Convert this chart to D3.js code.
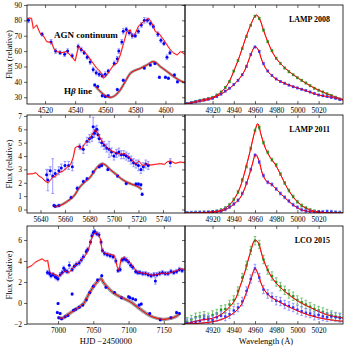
<!DOCTYPE html>
<html>
<head>
<meta charset="utf-8">
<script src="https://cdn.jsdelivr.net/npm/d3@7"></script>
<style>
  body { margin: 0; background: #fff; }
  svg { display: block; }
  .tick text { font-family: "Liberation Serif", serif; font-size: 7.5px; fill: #000; }
  .tick line { stroke: #000; stroke-width: 0.6; }
</style>
</head>
<body>
<svg id="chart" width="350" height="350"></svg>
<script>
// ---- light curves (HJD - 2450000, flux) ----
const cont08Line = [[4508,80.7],[4509.5,81.5],[4511,81.3],[4512.2,74.8],[4514.4,77],[4516.7,71.6],[4518.9,69.9],[4521.1,66.2],[4524.4,65.5],[4526,61.2],[4527.8,59.7],[4531.1,59],[4534.4,59.7],[4537.8,56.4],[4540,53.6],[4542.2,62.9],[4544.4,60.8],[4546.7,59],[4548.9,56.4],[4551.1,53.2],[4554.4,48.8],[4556.7,46.7],[4558.9,42.3],[4561.1,44.5],[4563.3,47.8],[4565.6,51],[4567.8,52.1],[4570,57.5],[4572.2,65.1],[4574.4,72.7],[4576.7,73.8],[4577.8,69.4],[4580,71.6],[4582.2,76.4],[4585.6,79.2],[4588.9,81.3],[4591.1,78.1],[4593.3,72.7],[4595.6,71.6],[4598.9,67.3],[4601.1,64],[4603.3,60.8],[4605.6,58.6],[4607.8,57.5],[4610,59.7],[4613,58]];
const cont08Pts = [[4509,80,1.5],[4518,71,1.2],[4524,66,1.5],[4527,60,1.5],[4530,59,1.2],[4533,58,1.5],[4535,60,1.5],[4538,57,1.2],[4542,63,1.5],[4544,61,1.5],[4546,59,1.2],[4548,56,1.2],[4550,53,1.5],[4552,48,1.5],[4554,46,1.5],[4556,45,1.5],[4558,44,1.2],[4560,45,1.5],[4562,47,1.2],[4566,52,1.5],[4568,55,1.5],[4569,60,1.5],[4571,66,1.5],[4572,73,1.8],[4574,74,1.5],[4576,72,1.5],[4578,70,1.5],[4580,70,1.2],[4582,73,1.5],[4584,77,1.5],[4586,80,1.8],[4588,80,1.5],[4590,78,1.5],[4592,76,1.2],[4595,71,1.5],[4597,67,1.5],[4599,65,1.2],[4601,56,1.5],[4603,59,1.2]];
const hb08Line = [[4553.5,37],[4556.7,33.7],[4561.1,30.4],[4564,30],[4567,31.5],[4570,34.8],[4573.3,40.2],[4576.7,45.6],[4579,47.1],[4583.3,48.8],[4587.8,51],[4591,53],[4593,53],[4596.7,49.9],[4601.1,46.7],[4605.6,43.4],[4610,40.6],[4613,39.5]];
const hb08Pts = [[4553,38,0.8],[4555,37,0.8],[4558,31,0.8],[4560,30.5,0.8],[4562,31,0.8],[4568,35,0.8],[4572,41,0.8],[4586,49,0.8],[4590,51,0.8],[4593,52,0.8],[4596,43,0.8],[4600,43,0.8],[4602,42.4,0.8],[4606,44.5,0.8],[4608,40,0.8]];

const cont11Line = [[5629,2.65],[5633.8,2.68],[5636.3,2.75],[5638.8,2.5],[5641.2,2.38],[5643.7,2.13],[5646.2,2.0],[5648.6,2.25],[5649.9,2.43],[5652.3,2.5],[5654.8,2.75],[5658.5,2.88],[5662.2,3.18],[5664.7,3.38],[5666.7,3.88],[5668.4,4.63],[5670.9,4.75],[5673.3,4.5],[5675.8,4.88],[5678.3,5.13],[5680.7,5.38],[5683.2,5.75],[5684.9,6.0],[5686.9,5.63],[5689.4,5.25],[5691.9,4.88],[5694.3,4.63],[5698,4.38],[5701.7,4.25],[5705.4,4.13],[5709.1,4.18],[5712.8,3.88],[5715.3,3.63],[5717.8,3.38],[5720.2,3.63],[5724,3.25],[5726.4,3.43],[5730.1,3.33],[5733.8,3.38],[5737.5,3.43],[5741.2,3.38],[5743.7,3.58],[5746.2,3.63],[5750,3.45],[5754,3.55],[5758,3.5]];
const cont11Pts = [[5645,2.6,0.4],[5646,2.2,0.8],[5648,2.9,0.3],[5650,2.5,1.3],[5652,2.7,0.3],[5655,2.9,0.3],[5657,3.1,0.3],[5660,3.3,0.3],[5663,3.3,0.3],[5666,3.2,0.3],[5672,4.7,0.2],[5675,4.5,0.3],[5678,5.1,0.3],[5680,5.3,0.3],[5682,5.4,0.3],[5683,6.2,0.7],[5684,5.7,0.3],[5685,5.9,0.3],[5686,6.0,0.3],[5687,5.6,0.3],[5688,5.3,0.3],[5690,5.0,0.3],[5692,4.8,0.3],[5694,4.6,0.3],[5696,4.5,0.6],[5698,4.3,0.3],[5700,4.0,0.3],[5702,4.2,0.3],[5704,4.3,0.3],[5706,4.1,0.3],[5708,4.1,0.3],[5710,4.0,0.3],[5712,3.9,0.3],[5714,3.7,0.3],[5716,3.5,0.3],[5718,3.4,0.3],[5720,3.3,0.4],[5722,3.0,0.3],[5724,3.2,0.3],[5726,3.4,0.3],[5728,3.3,0.3],[5746,3.5,0.3]];
const hb11Line = [[5651.1,0.2],[5656,0.3],[5662.2,0.63],[5667.2,1.0],[5672.1,1.68],[5677,2.13],[5680.7,2.43],[5684.4,2.93],[5688.1,3.33],[5690.6,3.43],[5693.1,3.33],[5696.8,3.0],[5701.7,2.63],[5706.7,2.25],[5711.6,2.0],[5716.5,1.83],[5720.2,1.68],[5722.7,1.5]];
const hb11Pts = [[5651,0.3,0.1],[5652,0.25,0.1],[5655,0.3,0.1],[5665,0.9,0.1],[5670,1.6,0.1],[5675,2.1,0.1],[5678,2.3,0.1],[5683,2.8,0.1],[5688,3.2,0.1],[5690,3.3,0.1],[5695,3.0,0.1],[5703,2.5,0.1],[5710,1.95,0.1],[5718,1.9,0.1],[5720,1.9,0.1],[5722,1.85,0.1],[5723,1.15,0.1]];

const cont15Line = [[6956,3.35],[6958.4,3.42],[6963.1,3.57],[6967.8,3.89],[6972.6,4.05],[6977.3,4.2],[6982,3.98],[6985.3,4.05],[6988.2,2.94],[6991.5,2.79],[6996.2,2.72],[7000.9,2.54],[7005.7,2.79],[7010.4,3.1],[7015.1,2.85],[7019.9,3.26],[7024.6,3.57],[7029.3,3.89],[7034.1,4.2],[7038.8,4.52],[7043.5,5.15],[7046.9,6.0],[7050.6,6.57],[7054.4,6.72],[7057.7,6.41],[7060.1,6.09],[7062.5,4.99],[7065.8,4.74],[7070.5,4.68],[7075.2,4.61],[7080,4.52],[7083.8,3.48],[7086.6,3.1],[7089.4,4.2],[7094.2,4.36],[7098.9,4.05],[7103.6,3.73],[7108.4,3.26],[7113.1,2.94],[7119.3,2.85],[7126.4,2.79],[7133.5,2.63],[7140.6,2.72],[7147.7,2.85],[7154.8,2.79],[7161.9,2.94],[7169,3.1],[7173.7,3.26],[7180,3.2]];
const cont15Pts = [[6985,2.9,0.2],[6988,2.8,0.2],[6990,2.6,0.2],[6993,2.7,0.2],[6996,2.5,0.2],[6998,2.4,0.2],[7000,2.3,0.2],[7003,2.7,0.2],[7006,2.9,0.2],[7008,3.3,0.2],[7010,3.1,0.2],[7013,3.0,0.2],[7016,3.6,0.3],[7020,3.2,0.2],[7023,3.5,0.2],[7026,3.7,0.2],[7030,3.8,0.2],[7033,4.1,0.2],[7036,4.4,0.2],[7040,4.9,0.2],[7042,5.1,0.2],[7046,5.8,0.2],[7048,6.4,0.2],[7050,6.7,0.2],[7052,6.8,0.2],[7055,6.6,0.2],[7058,6.5,0.2],[7061,5.8,0.2],[7063,5.0,0.2],[7066,4.7,0.2],[7070,4.6,0.2],[7074,4.5,0.2],[7078,4.4,0.2],[7082,4.0,0.2],[7085,3.1,0.2],[7088,3.2,0.2],[7091,4.1,0.2],[7094,4.2,0.2],[7097,4.1,0.2],[7100,3.9,0.2],[7103,3.6,0.2],[7106,3.4,0.2],[7110,3.0,0.2],[7113,2.9,0.2],[7116,2.9,0.2],[7120,2.8,0.2],[7124,2.8,0.2],[7128,2.7,0.2],[7132,2.6,0.2],[7136,2.7,0.2],[7138,2.1,0.3],[7140,2.7,0.2],[7144,2.8,0.2],[7148,2.9,0.2],[7152,2.8,0.2],[7156,2.8,0.2],[7160,3.0,0.2],[7164,2.9,0.2],[7168,3.0,0.2],[7172,3.2,0.2],[7176,3.1,0.2]];
const hb15Line = [[7000.9,-1.37],[7005.7,-1.46],[7012.8,-1.15],[7019.9,-0.83],[7027,-0.52],[7036.4,-0.05],[7042.1,0.65],[7048.3,1.37],[7055.3,2.0],[7061,2.31],[7063.9,2.0],[7069.6,1.53],[7076.7,1.06],[7083.8,0.74],[7093.2,0.43],[7102.7,0.11],[7112.2,-0.36],[7121.6,-0.83],[7131.1,-1.24],[7140.6,-1.46],[7150,-1.56],[7159.5,-1.46],[7166.6,-1.31],[7171.3,-1.06]];
const hb15Pts = [[6999,-0.9,0.1],[7000,-0.05,0.1],[7001,-1.4,0.1],[7003,-1.0,0.1],[7005,-1.5,0.1],[7010,-1.3,0.1],[7014,-1.2,0.1],[7020,0.85,0.1],[7022,-0.7,0.1],[7025,-0.6,0.1],[7030,-0.4,0.1],[7035,-0.2,0.1],[7040,0.3,0.1],[7045,1.0,0.1],[7050,1.6,0.1],[7056,2.2,0.1],[7062,2.6,0.1],[7068,1.5,0.1],[7080,1.0,0.1],[7090,0.5,0.1],[7100,0.6,0.1],[7102,0.5,0.1],[7106,0.4,0.1],[7110,0.3,0.1],[7115,-0.2,0.1],[7118,-0.1,0.1],[7130,-1.0,0.1],[7145,-1.6,0.1],[7160,-1.4,0.1],[7168,-0.9,0.1],[7172,-1.0,0.1]];

// ---- spectra (wavelength in Angstrom) ----
const wave = [4896,4900,4904,4908,4912,4916,4920,4924,4928,4932,4936,4940,4944,4948,4952,4956,4960,4964,4968,4972,4976,4980,4984,4988,4992,4996,5000,5004,5008,5012,5016,5020,5024,5028,5032,5036,5040];
const mean08 = [0.02,0.1,0.17,0.24,0.3,0.37,0.44,0.6,0.8,1.1,1.5,2.2,2.9,3.7,4.5,5.25,5.85,5.7,4.93,4.15,3.55,3.05,2.7,2.4,2.15,1.95,1.75,1.58,1.4,1.22,1.05,0.92,0.8,0.68,0.57,0.45,0.33];
const rms08 = [0.02,0.08,0.14,0.2,0.26,0.32,0.38,0.5,0.66,0.86,1.05,1.3,1.58,1.95,2.5,3.3,3.8,3.5,2.7,2.2,1.9,1.67,1.5,1.38,1.26,1.15,1.07,0.98,0.9,0.8,0.7,0.6,0.55,0.5,0.44,0.38,0.3];
const mean11 = [0.0,0.01,0.02,0.03,0.04,0.05,0.07,0.12,0.2,0.33,0.55,0.9,1.4,2.2,3.1,4.3,5.5,5.7,4.7,4.05,3.55,3.2,2.6,2.0,1.5,1.1,0.75,0.5,0.33,0.2,0.12,0.07,0.05,0.04,0.03,0.02,0.01];
const rms11 = [0.0,0.01,0.02,0.03,0.04,0.05,0.06,0.09,0.13,0.25,0.4,0.6,0.85,1.3,2.0,2.9,3.85,3.4,2.5,2.05,1.9,1.6,1.3,1.05,0.8,0.55,0.38,0.22,0.14,0.1,0.07,0.06,0.07,0.1,0.08,0.04,0.02];
const mean15 = [0.15,0.3,0.45,0.5,0.55,0.45,0.6,0.7,0.95,1.0,1.3,1.6,2.2,3.1,3.9,4.9,5.55,5.3,4.3,3.6,3.2,2.8,2.5,2.25,2.0,1.85,1.6,1.45,1.3,1.15,1.0,0.9,0.8,0.7,0.6,0.5,0.45];
const rms15 = [0.05,0.1,0.15,0.2,0.35,0.3,0.25,0.45,0.55,0.5,0.65,0.9,1.1,1.5,2.2,3.0,3.7,3.1,2.3,2.0,1.8,1.55,1.5,1.3,1.2,1.1,0.95,0.85,0.75,0.7,0.55,0.6,0.5,0.45,0.5,0.45,0.4];
const specErr = [0.07, 0.1, 0.28];

const modelMean08 = [[4894,0],[4909.6,0.27],[4920,0.44],[4928.5,0.82],[4934.8,1.38],[4941.1,2.38],[4945.9,3.27],[4950.6,4.27],[4955.3,5.16],[4960.1,5.87],[4961.6,5.93],[4964.8,5.6],[4968,4.93],[4972.7,4.04],[4979,3.15],[4988.5,2.38],[5001,1.71],[5013.7,1.15],[5023.2,0.82],[5032.6,0.55],[5043,0.3]];
const modelRms08 = [[4894,0],[4920,0.38],[4934.8,0.98],[4944.3,1.6],[4950.6,2.27],[4955.3,3.16],[4960.1,3.82],[4963.2,3.6],[4966.4,2.93],[4971.1,2.27],[4979,1.71],[4991.6,1.27],[5004.2,0.98],[5020,0.6],[5032.6,0.44],[5043,0.26]];
const modelMean11 = [[4894,0],[4915.9,0.05],[4928.5,0.2],[4934.8,0.47],[4941.1,1.0],[4945.9,1.7],[4950.6,2.8],[4955.3,4.1],[4960.1,5.5],[4962.6,5.95],[4965.8,5.2],[4969.6,4.35],[4974.4,3.7],[4979,3.25],[4983.9,2.6],[4990.2,1.7],[4998,0.9],[5007.4,0.35],[5020,0.07],[5043,0]];
const modelRms11 = [[4894,0],[4928.5,0.13],[4938,0.47],[4945.9,1.0],[4952.2,2.0],[4956.9,3.1],[4960.7,3.9],[4963.9,3.45],[4967.1,2.6],[4971.2,2.1],[4975.9,1.9],[4980.6,1.55],[4987,1.1],[4994.8,0.6],[5004.3,0.2],[5020,0.05],[5043,0]];
const modelMean15 = [[4894,0],[4909.6,0.27],[4920,0.38],[4928.5,0.65],[4934.8,1.05],[4941.1,1.6],[4945.9,2.5],[4950.6,3.5],[4955.3,4.7],[4960.1,5.6],[4963.2,5.4],[4967,4.5],[4972.7,3.5],[4979,2.8],[4988.5,2.15],[5001,1.5],[5013.7,1.05],[5026.3,0.65],[5043,0.4]];
const modelRms15 = [[4894,0],[4920,0.15],[4934.8,0.5],[4945.9,1.15],[4952.2,2.15],[4956.9,3.15],[4960.1,3.7],[4963.2,3.27],[4967,2.5],[4972.7,1.93],[4982.2,1.5],[4994.8,1.05],[5010.5,0.6],[5026.3,0.33],[5043,0.18]];

// ---- axes ----
const leftDomains = [[4508, 4613], [5629, 5758], [6956, 7180]];
const leftYDomains = [[25.6, 90], [-0.26, 7.07], [-2, 7.33]];
const leftXTicks = [[4520, 4540, 4560, 4580, 4600], [5640, 5660, 5680, 5700, 5720, 5740], [7000, 7050, 7100, 7150]];
const leftYTicks = [[30, 40, 50, 60, 70, 80, 90], [0, 1, 2, 3, 4, 5, 6, 7], [-2, 0, 2, 4, 6]];
const waveDomain = [4894, 5043];
const waveTicks = [4920, 4940, 4960, 4980, 5000, 5020];
const labels = ["LAMP 2008", "LAMP 2011", "LCO 2015"];

const svg = d3.select("#chart");
svg.append("rect").attr("width", 350).attr("height", 350).attr("fill", "#fff");

const L = { x0: 27, x1: 185 }, R = { x0: 185, x1: 343 };
const ROWS = [{ y0: 5, y1: 104 }, { y0: 115, y1: 213 }, { y0: 226, y1: 324 }];
const SERIF = "'Liberation Serif', serif";
const BLUE = "#0000ff", RED = "#ff0000", GREEN = "#1f9a1f";

const fmtNum = d => d < 0 ? "\u2212" + Math.abs(d) : String(d);

function clip(id, x0, x1, y0, y1) {
  svg.append("clipPath").attr("id", id).append("rect")
    .attr("x", x0).attr("y", y0).attr("width", x1 - x0).attr("height", y1 - y0);
  return `url(#${id})`;
}

function errPoints(g, pts, x, y, col, errCol, r, sq) {
  const eg = g.append("g").attr("stroke", errCol).attr("stroke-width", 0.8);
  pts.forEach(p => {
    const cx = x(p[0]);
    eg.append("line").attr("x1", cx).attr("x2", cx).attr("y1", y(p[1] - p[2])).attr("y2", y(p[1] + p[2]));
    eg.append("line").attr("x1", cx - 1.3).attr("x2", cx + 1.3).attr("y1", y(p[1] - p[2])).attr("y2", y(p[1] - p[2]));
    eg.append("line").attr("x1", cx - 1.3).attr("x2", cx + 1.3).attr("y1", y(p[1] + p[2])).attr("y2", y(p[1] + p[2]));
  });
  if (sq) {
    g.append("g").selectAll("rect").data(pts).join("rect")
      .attr("x", d => x(d[0]) - r).attr("y", d => y(d[1]) - r)
      .attr("width", 2 * r).attr("height", 2 * r).attr("fill", col);
  } else {
    g.append("g").selectAll("circle").data(pts).join("circle")
      .attr("cx", d => x(d[0])).attr("cy", d => y(d[1])).attr("r", r).attr("fill", col);
  }
}

function frameAxes(x, y, box, row, xTicks, yTicks, showY) {
  const b = svg.append("g").attr("transform", `translate(0,${row.y1})`)
    .call(d3.axisBottom(x).tickValues(xTicks).tickSizeInner(-3).tickSizeOuter(0).tickPadding(3.5).tickFormat(fmtNum));
  b.select(".domain").remove();
  const t = svg.append("g").attr("transform", `translate(0,${row.y0})`)
    .call(d3.axisTop(x).tickValues(xTicks).tickSizeInner(-3).tickSizeOuter(0).tickFormat(""));
  t.select(".domain").remove();
  if (showY) {
    const l = svg.append("g").attr("transform", `translate(${box.x0},0)`)
      .call(d3.axisLeft(y).tickValues(yTicks).tickSizeInner(3).tickSizeOuter(0).tickPadding(2).tickFormat(fmtNum));
    l.select(".domain").remove();
    const r = svg.append("g").attr("transform", `translate(${box.x1},0)`)
      .call(d3.axisRight(y).tickValues(yTicks).tickSizeInner(-3).tickSizeOuter(0).tickFormat(""));
    r.select(".domain").remove();
  }
  svg.append("rect").attr("x", box.x0).attr("y", row.y0)
    .attr("width", box.x1 - box.x0).attr("height", row.y1 - row.y0)
    .attr("fill", "none").attr("stroke", "#000").attr("stroke-width", 0.8);
}

const leftSets = [
  [cont08Line, cont08Pts, hb08Line, hb08Pts],
  [cont11Line, cont11Pts, hb11Line, hb11Pts],
  [cont15Line, cont15Pts, hb15Line, hb15Pts]
];
const spec = [[mean08, rms08, modelMean08, modelRms08], [mean11, rms11, modelMean11, modelRms11], [mean15, rms15, modelMean15, modelRms15]];

ROWS.forEach((row, i) => {
  // light curve panel
  const x = d3.scaleLinear().domain(leftDomains[i]).range([L.x0, L.x1]);
  const y = d3.scaleLinear().domain(leftYDomains[i]).range([row.y1, row.y0]);
  const g = svg.append("g").attr("clip-path", clip("cl" + i, L.x0, L.x1, row.y0, row.y1));
  const [cLine, cPts, hLine, hPts] = leftSets[i];
  const lin = d3.line().x(d => x(d[0])).y(d => y(d[1]));
  const smooth = d3.line().x(d => x(d[0])).y(d => y(d[1])).curve(d3.curveCatmullRom);
  g.append("path").datum(cLine).attr("d", lin).attr("fill", "none").attr("stroke", "#ff9090").attr("stroke-width", 1.8).attr("opacity", 0.5);
  errPoints(g, cPts, x, y, BLUE, "#8080ff", 1.5, false);
  g.append("path").datum(cLine).attr("d", lin).attr("fill", "none").attr("stroke", RED).attr("stroke-width", 0.9);
  g.append("path").datum(hLine).attr("d", smooth).attr("fill", "none").attr("stroke", "#999").attr("stroke-width", i === 2 ? 3.5 : 2.6);
  errPoints(g, hPts, x, y, BLUE, "#8080ff", 1.5, false);
  g.append("path").datum(hLine).attr("d", smooth).attr("fill", "none").attr("stroke", RED).attr("stroke-width", 1);
  frameAxes(x, y, L, row, leftXTicks[i], leftYTicks[i], true);

  svg.append("text").attr("x", 10).attr("y", (row.y0 + row.y1) / 2)
    .attr("transform", `rotate(-90,10,${(row.y0 + row.y1) / 2})`)
    .attr("text-anchor", "middle").attr("dominant-baseline", "middle")
    .style("font-family", SERIF).style("font-size", "8.5px").text("Flux (relative)");

  // spectrum panel
  const xs = d3.scaleLinear().domain(waveDomain).range([R.x0, R.x1]);
  const ys = d3.scaleLinear().domain([0, (row.y1 - row.y0) / 15]).range([row.y1, row.y0]);
  const gs = svg.append("g").attr("clip-path", clip("cr" + i, R.x0, R.x1, row.y0, row.y1));
  const [mean, rms, mMean, mRms] = spec[i];
  const e = specErr[i];
  const sline = d3.line().x(d => xs(d[0])).y(d => ys(d[1])).curve(d3.curveCatmullRom);
  gs.append("path").datum(mMean).attr("d", sline).attr("fill", "none").attr("stroke", RED).attr("stroke-width", 1);
  gs.append("path").datum(mRms).attr("d", sline).attr("fill", "none").attr("stroke", RED).attr("stroke-width", 1);
  errPoints(gs, wave.map((w, k) => [w, mean[k], e]), xs, ys, GREEN, "#5cb85c", 1.2, true);
  errPoints(gs, wave.map((w, k) => [w, rms[k], e]), xs, ys, "#3030ff", "#8080ff", 1.2, true);
  gs.append("path").datum(mMean).attr("d", sline).attr("fill", "none").attr("stroke", RED).attr("stroke-width", 0.8).attr("opacity", 0.85);
  gs.append("path").datum(mRms).attr("d", sline).attr("fill", "none").attr("stroke", RED).attr("stroke-width", 0.8).attr("opacity", 0.85);
  frameAxes(xs, ys, R, row, waveTicks, [], false);

  svg.append("text").attr("x", 330).attr("y", row.y0 + 17)
    .attr("text-anchor", "end").style("font-family", SERIF).style("font-weight", "bold")
    .style("font-size", "8px").text(labels[i]);
});

// panel annotations
svg.append("text").attr("x", 86).attr("y", 38).attr("text-anchor", "middle")
  .style("font-family", SERIF).style("font-weight", "bold").style("font-size", "9px").text("AGN continuum");
const hb = svg.append("text").attr("x", 78).attr("y", 94).attr("text-anchor", "middle")
  .style("font-family", SERIF).style("font-weight", "bold").style("font-size", "9px");
hb.append("tspan").text("H");
hb.append("tspan").style("font-style", "italic").text("\u03B2");
hb.append("tspan").text(" line");

svg.append("text").attr("x", 106).attr("y", 344).attr("text-anchor", "middle")
  .style("font-family", SERIF).style("font-size", "8.5px").text("HJD \u22122450000");
svg.append("text").attr("x", 266).attr("y", 344).attr("text-anchor", "middle")
  .style("font-family", SERIF).style("font-size", "8.5px").text("Wavelength (\u00C5)");
</script>
</body>
</html>
